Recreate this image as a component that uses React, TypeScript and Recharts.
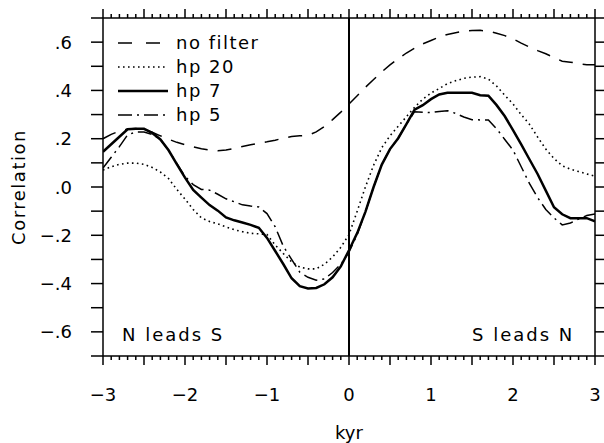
import React from 'react';
import { LineChart, Line, XAxis, YAxis, ReferenceLine, Legend, Customized } from 'recharts';

// lag in kyr, every 0.1
const kyr = [
  -3.0, -2.9, -2.8, -2.7, -2.6, -2.5, -2.4, -2.3, -2.2, -2.1,
  -2.0, -1.9, -1.8, -1.7, -1.6, -1.5, -1.4, -1.3, -1.2, -1.1,
  -1.0, -0.9, -0.8, -0.7, -0.6, -0.5, -0.4, -0.3, -0.2, -0.1,
  0.0, 0.1, 0.2, 0.3, 0.4, 0.5, 0.6, 0.7, 0.8, 0.9,
  1.0, 1.1, 1.2, 1.3, 1.4, 1.5, 1.6, 1.7, 1.8, 1.9,
  2.0, 2.1, 2.2, 2.3, 2.4, 2.5, 2.6, 2.7, 2.8, 2.9,
  3.0,
];

const noFilter = [
  0.200, 0.218, 0.232, 0.240, 0.242, 0.237, 0.227, 0.212, 0.198, 0.185,
  0.175, 0.166, 0.158, 0.153, 0.150, 0.153, 0.160, 0.168, 0.175, 0.181,
  0.187, 0.194, 0.202, 0.209, 0.212, 0.214, 0.228, 0.251, 0.279, 0.310,
  0.344, 0.378, 0.413, 0.445, 0.477, 0.506, 0.531, 0.555, 0.575, 0.593,
  0.607, 0.621, 0.632, 0.639, 0.645, 0.648, 0.649, 0.645, 0.637, 0.627,
  0.614, 0.596, 0.580, 0.565, 0.552, 0.536, 0.521, 0.517, 0.511, 0.506,
  0.506,
];

const hp20 = [
  0.070, 0.084, 0.094, 0.099, 0.099, 0.094, 0.081, 0.062, 0.035, -0.010,
  -0.050, -0.093, -0.128, -0.143, -0.153, -0.165, -0.177, -0.185, -0.192, -0.194,
  -0.197, -0.240, -0.276, -0.310, -0.332, -0.339, -0.339, -0.320, -0.290, -0.250,
  -0.197, -0.100, 0.000, 0.090, 0.163, 0.212, 0.252, 0.291, 0.330, 0.364,
  0.389, 0.408, 0.428, 0.440, 0.450, 0.455, 0.457, 0.447, 0.418, 0.380,
  0.344, 0.300, 0.260, 0.207, 0.157, 0.118, 0.088, 0.074, 0.064, 0.054,
  0.045,
];

const hp7 = [
  0.146, 0.177, 0.208, 0.239, 0.241, 0.241, 0.224, 0.197, 0.152, 0.095,
  0.039, -0.012, -0.044, -0.075, -0.098, -0.126, -0.138, -0.147, -0.157, -0.169,
  -0.211, -0.265, -0.320, -0.378, -0.411, -0.420, -0.418, -0.403, -0.374, -0.329,
  -0.262, -0.191, -0.103, 0.000, 0.093, 0.157, 0.202, 0.260, 0.320, 0.339,
  0.364, 0.383, 0.390, 0.390, 0.390, 0.390, 0.380, 0.378, 0.339, 0.293,
  0.236, 0.177, 0.115, 0.054, -0.015, -0.084, -0.113, -0.129, -0.129, -0.129,
  -0.142,
];

const hp5 = [
  0.079, 0.123, 0.167, 0.216, 0.228, 0.228, 0.218, 0.197, 0.152, 0.098,
  0.044, 0.010, -0.010, -0.013, -0.030, -0.049, -0.061, -0.074, -0.079, -0.083,
  -0.110, -0.165, -0.246, -0.300, -0.353, -0.374, -0.386, -0.381, -0.354, -0.320,
  -0.270, -0.197, -0.103, 0.000, 0.093, 0.157, 0.202, 0.260, 0.312, 0.310,
  0.308, 0.313, 0.316, 0.305, 0.290, 0.279, 0.278, 0.278, 0.241, 0.197,
  0.153, 0.084, 0.015, -0.044, -0.093, -0.128, -0.157, -0.149, -0.133, -0.118,
  -0.112,
];

const yTicks = [-0.7, -0.6, -0.5, -0.4, -0.3, -0.2, -0.1, 0, 0.1, 0.2, 0.3, 0.4, 0.5, 0.6, 0.7];

const series = [
  { key: 'noFilter', name: 'no filter', width: 1.5, dash: '14 10', legendDash: '14 14' },
  { key: 'hp20', name: 'hp 20', width: 1.6, dash: '1.6 3.4', legendDash: '1.6 3.4' },
  { key: 'hp7', name: 'hp 7', width: 2.5, dash: undefined, legendDash: undefined },
  { key: 'hp5', name: 'hp 5', width: 1.5, dash: '14 5 2 5', legendDash: '14 5 2 5' },
];

const data = kyr.map((t, i) => ({
  kyr: t,
  noFilter: noFilter[i],
  hp20: hp20[i],
  hp7: hp7[i],
  hp5: hp5[i],
}));

const FONT = '"DejaVu Sans", sans-serif';

const fmtX = (v: number) => (v < 0 ? '\u2212' + Math.abs(v) : String(v));
const fmtY = (v: number) => {
  const s = '.' + Math.round(Math.abs(v) * 10);
  return v < -1e-9 ? '\u2212' + s : s;
};

const BottomTick = (props: any) => {
  const { x, y, payload } = props;
  const r = Math.round(payload.value * 10);
  const len = r % 5 === 0 ? 9 : 4;
  return (
    <g>
      <line x1={x} x2={x} y1={y} y2={y + len} stroke="#000" strokeWidth={1.5} />
      {r % 10 === 0 && (
        <text x={x} y={y + 38} textAnchor="middle" dominantBaseline="central"
          fontFamily={FONT} fontSize={18} fill="#000">
          {fmtX(payload.value)}
        </text>
      )}
    </g>
  );
};

const TopTick = (props: any) => {
  const { x, y, payload } = props;
  const r = Math.round(payload.value * 10);
  const len = r % 5 === 0 ? 9 : 4;
  return <line x1={x} x2={x} y1={y} y2={y - len} stroke="#000" strokeWidth={1.5} />;
};

const LeftTick = (props: any) => {
  const { x, y, payload } = props;
  const r = Math.round(payload.value * 10);
  const showLabel = r % 2 === 0 && Math.abs(r) < 7;
  return (
    <g>
      <line x1={x} x2={x - 12} y1={y} y2={y} stroke="#000" strokeWidth={1.5} />
      {showLabel && (
        <text x={x - 31} y={y} textAnchor="end" dominantBaseline="central"
          fontFamily={FONT} fontSize={18} fill="#000">
          {fmtY(payload.value)}
        </text>
      )}
    </g>
  );
};

const RightTick = (props: any) => {
  const { x, y } = props;
  return <line x1={x} x2={x + 9} y1={y} y2={y} stroke="#000" strokeWidth={1.5} />;
};

const renderLegend = () => (
  <div style={{ fontFamily: FONT, fontSize: 18, letterSpacing: 1.5, color: '#000' }}>
    {series.map((s) => (
      <div key={s.key} style={{ display: 'flex', alignItems: 'center', height: 24 }}>
        <svg width={50} height={24} style={{ display: 'block' }}>
          <line x1={0} x2={50} y1={12} y2={12} stroke="#000"
            strokeWidth={s.width} strokeDasharray={s.legendDash} />
        </svg>
        <span style={{ marginLeft: 8, lineHeight: '24px', whiteSpace: 'nowrap' }}>{s.name}</span>
      </div>
    ))}
  </div>
);

const Annotations = () => (
  <g fontFamily={FONT} fontSize={18} fill="#000">
    <text x={122} y={334} dominantBaseline="central" letterSpacing={2}>N leads S</text>
    <text x={472} y={334} dominantBaseline="central" letterSpacing={2}>S leads N</text>
    <text x={349} y={432} textAnchor="middle" dominantBaseline="central">kyr</text>
    <text transform="translate(18,187) rotate(-90)" textAnchor="middle"
      dominantBaseline="central" letterSpacing={1.5}>Correlation</text>
  </g>
);

export default function App() {
  return (
    <div style={{ position: 'absolute', left: 0, top: 0, background: '#fff' }}>
      <LineChart width={604} height={443} data={data}
        margin={{ top: 17, right: 8, bottom: 86, left: 102 }}>
        <XAxis dataKey="kyr" type="number" domain={[-3, 3]} ticks={kyr} interval={0}
          height={1} tickSize={0} tickMargin={0} tickLine={false}
          axisLine={{ stroke: '#000', strokeWidth: 1.5 }} tick={<BottomTick />}
          allowDataOverflow />
        <XAxis xAxisId="top" orientation="top" dataKey="kyr" type="number" domain={[-3, 3]}
          ticks={kyr} interval={0} height={1} tickSize={0} tickMargin={0} tickLine={false}
          axisLine={{ stroke: '#000', strokeWidth: 1.5 }} tick={<TopTick />}
          allowDataOverflow />
        <YAxis type="number" domain={[-0.7, 0.7]} ticks={yTicks} interval={0}
          width={1} tickSize={0} tickMargin={0} tickLine={false}
          axisLine={{ stroke: '#000', strokeWidth: 1.5 }} tick={<LeftTick />}
          allowDataOverflow />
        <YAxis yAxisId="right" orientation="right" type="number" domain={[-0.7, 0.7]}
          ticks={yTicks} interval={0} width={1} tickSize={0} tickMargin={0} tickLine={false}
          axisLine={{ stroke: '#000', strokeWidth: 1.5 }} tick={<RightTick />}
          allowDataOverflow />
        <ReferenceLine x={0} stroke="#000" strokeWidth={2} />
        {series.map((s) => (
          <Line key={s.key} type="linear" dataKey={s.key} name={s.name} stroke="#000"
            strokeWidth={s.width} strokeDasharray={s.dash} dot={false}
            activeDot={false} isAnimationActive={false} />
        ))}
        <Legend layout="horizontal" verticalAlign="middle" align="center"
          content={renderLegend}
          wrapperStyle={{ left: 118, top: 31, width: 220 }} />
        <Customized component={Annotations} />
      </LineChart>
    </div>
  );
}
